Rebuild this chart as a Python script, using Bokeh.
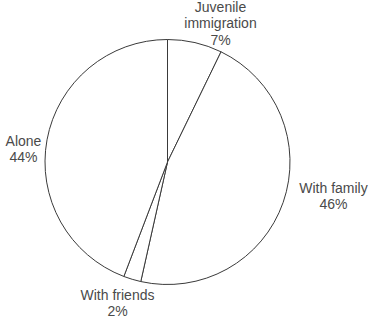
import math
from bokeh.plotting import figure
from bokeh.models import Range1d, ColumnDataSource
from bokeh.core.properties import value
from bokeh.embed import file_html
from bokeh.resources import INLINE

# data
categories = ["Juvenile immigration", "With family", "With friends", "Alone"]
label_lines = [["Juvenile", "immigration"], ["With family"], ["With friends"], ["Alone"]]
shares = [7.2, 46.3, 2.3, 44.2]

# layout (pixel positions from top-left of the window)
W, H = 369, 320
cx, cy, R = 167, 161.5, 122.5
label_pos = [(220, 6), (333, 187), (117, 294), (23, 140)]
line_h = 16.5

p = figure(width=W, height=H, output_backend="svg", toolbar_location=None,
           x_range=Range1d(0, W), y_range=Range1d(0, H), min_border=0)
p.axis.visible = False
p.grid.visible = False
p.outline_line_color = None
p.background_fill_color = "white"
p.border_fill_color = "white"

total = sum(shares)
starts, ends = [], []
acc = 0.0
for s in shares:
    starts.append(math.pi / 2 - acc / total * 2 * math.pi)
    acc += s
    ends.append(math.pi / 2 - acc / total * 2 * math.pi)

src = ColumnDataSource(dict(cat=categories, start=starts, end=ends,
                            x=[cx] * len(shares), y=[H - cy] * len(shares)))
p.wedge(x="x", y="y", radius=R, start_angle="start", end_angle="end",
        direction="clock", source=src, fill_color="white",
        line_color="#3a3a3a", line_width=1)

tx, ty, tt = [], [], []
for lines, s, (lx, ly) in zip(label_lines, shares, label_pos):
    all_lines = lines + [f"{round(s)}%"]
    for i, t in enumerate(all_lines):
        tx.append(lx)
        ty.append(H - (ly + i * line_h))
        tt.append(t)

p.text(x=tx, y=ty, text=tt, text_font=value("Liberation Sans"),
       text_font_size="14px", text_color="#4a4a4a",
       text_align="center", text_baseline="middle")

open("out.html", "w").write(file_html(p, INLINE))
